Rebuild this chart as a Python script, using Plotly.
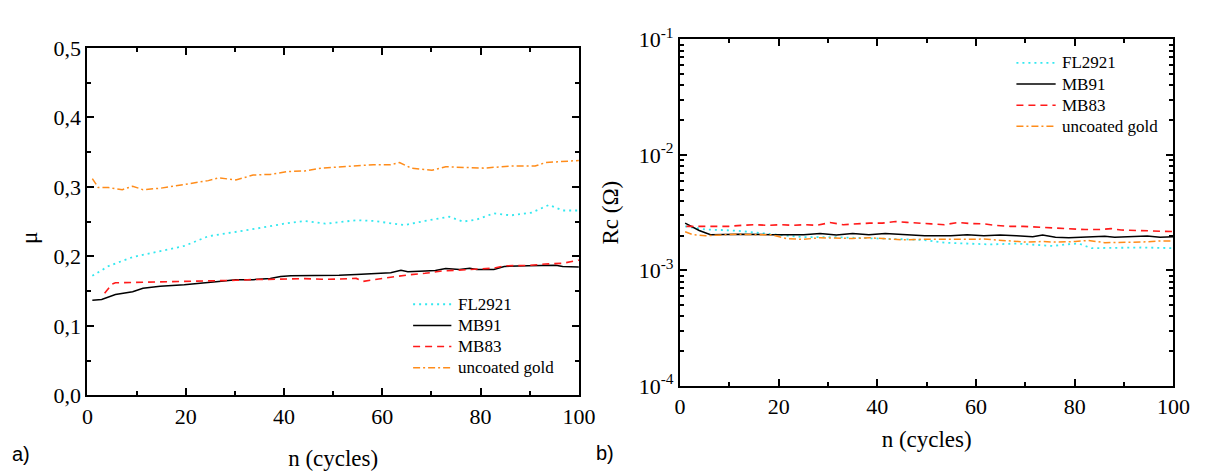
import plotly.graph_objects as go

# ---- friction coefficient mu vs. cycles (panel a) ----
fl2921_n = [1, 4.3, 9.2, 14.8, 19.7, 24.6, 30.2, 34.4, 40.0, 44.2, 48.4, 51.2, 54.7,
            58.2, 64.5, 68.7, 73.6, 76.4, 79.2, 82.7, 86.2, 90.4, 93.9, 96.7, 100]
fl2921_mu = [0.172, 0.186, 0.199, 0.208, 0.215, 0.229, 0.235, 0.240, 0.247, 0.251, 0.247,
             0.249, 0.252, 0.251, 0.245, 0.251, 0.257, 0.250, 0.253, 0.262, 0.259, 0.263,
             0.274, 0.266, 0.266]

mb91_n = [1, 2.9, 5.7, 9.2, 11.3, 14.8, 19.7, 23.2, 26.7, 30.2, 33.7, 37.2, 39.3, 41.4,
          44.2, 47.7, 51.2, 54.7, 58.2, 61.7, 63.8, 65.2, 68.7, 70.8, 72.9, 75.7, 77.8,
          79.2, 82.7, 84.8, 89.7, 93.2, 95.3, 96.7, 100]
mb91_mu = [0.137, 0.138, 0.145, 0.149, 0.154, 0.157, 0.159, 0.162, 0.164, 0.1665, 0.1665,
           0.168, 0.171, 0.172, 0.172, 0.173, 0.173, 0.174, 0.1755, 0.1765, 0.180, 0.178,
           0.179, 0.1796, 0.1824, 0.181, 0.183, 0.181, 0.181, 0.1855, 0.1864, 0.1873,
           0.1873, 0.1855, 0.1846]

mb83_n = [3.5, 5.0, 5.7, 9.2, 12.7, 16.2, 19.7, 23.2, 26.7, 30.2, 33.7, 37.2, 40.7, 44.2,
          47.7, 51.2, 54.7, 56.1, 58.2, 61.7, 65.2, 68.7, 72.2, 75.7, 79.2, 82.7, 84.8,
          89.7, 93.2, 96.7, 100]
mb83_mu = [0.147, 0.160, 0.162, 0.1625, 0.1625, 0.1636, 0.1636, 0.164, 0.165, 0.1656,
           0.1666, 0.1666, 0.1674, 0.168, 0.167, 0.1674, 0.1683, 0.164, 0.1665, 0.170,
           0.1733, 0.1756, 0.179, 0.180, 0.181, 0.183, 0.1864, 0.187, 0.189, 0.190, 0.1946]

gold_n = [1, 2.2, 4.3, 7.1, 9.2, 11.3, 14.8, 19.7, 24.6, 26.7, 30.2, 33.7, 37.2, 40.7,
          44.2, 47.7, 51.2, 54.7, 58.2, 61.7, 63.5, 65.9, 70.1, 72.9, 75.7, 80.6, 86.2,
          91.1, 93.2, 96.7, 100]
gold_mu = [0.312, 0.299, 0.299, 0.296, 0.301, 0.296, 0.298, 0.303, 0.309, 0.313, 0.310,
           0.317, 0.318, 0.322, 0.323, 0.327, 0.329, 0.331, 0.332, 0.332, 0.335, 0.327,
           0.324, 0.329, 0.328, 0.327, 0.330, 0.330, 0.335, 0.337, 0.338]

# ---- contact resistance Rc (Ohm) vs. cycles (panel b) ----
rc_fl2921_n = [1.05, 2.6, 5.2, 8.5, 11.9, 15.2, 18.5, 25.1, 31.7, 38.4, 45.0, 49.0, 53.6,
               58.2, 62.9, 68.2, 71.5, 75.5, 78.1, 80.8, 83.4, 88.1, 93.4, 100]
rc_fl2921 = [2.41e-3, 2.34e-3, 2.26e-3, 2.24e-3, 2.20e-3, 2.13e-3, 2.06e-3, 1.94e-3,
             1.94e-3, 1.90e-3, 1.88e-3, 1.84e-3, 1.74e-3, 1.71e-3, 1.68e-3, 1.71e-3,
             1.68e-3, 1.63e-3, 1.68e-3, 1.71e-3, 1.56e-3, 1.58e-3, 1.58e-3, 1.56e-3]

rc_mb91_n = [1.05, 3.9, 6.2, 11.9, 18.5, 25.1, 28.4, 31.7, 35.0, 38.3, 41.6, 45.0, 49.6,
             54.9, 58.2, 61.6, 64.9, 68.2, 71.5, 73.5, 76.1, 78.8, 81.4, 86.1, 88.1, 94.7,
             97.3, 100]
rc_mb91 = [2.57e-3, 2.22e-3, 2.04e-3, 2.06e-3, 2.04e-3, 2.04e-3, 2.09e-3, 2.03e-3, 2.09e-3,
           2.04e-3, 2.09e-3, 2.06e-3, 2.00e-3, 2.00e-3, 2.04e-3, 2.00e-3, 2.03e-3, 2.00e-3,
           1.96e-3, 2.03e-3, 1.94e-3, 1.92e-3, 1.94e-3, 1.98e-3, 1.94e-3, 1.99e-3, 1.94e-3,
           1.96e-3]

rc_mb83_n = [1.3, 4.6, 7.2, 9.9, 12.5, 15.2, 17.8, 20.5, 23.1, 25.4, 27.8, 30.4, 33.1,
             35.7, 38.4, 41.0, 43.7, 46.0, 49.0, 50.9, 53.6, 56.3, 58.9, 61.6, 64.2, 66.9,
             69.5, 72.2, 76.8, 79.5, 82.1, 84.8, 87.4, 89.4, 92.7, 95.4, 100]
rc_mb83 = [2.41e-3, 2.41e-3, 2.41e-3, 2.41e-3, 2.46e-3, 2.49e-3, 2.46e-3, 2.49e-3, 2.46e-3,
           2.49e-3, 2.46e-3, 2.60e-3, 2.49e-3, 2.53e-3, 2.57e-3, 2.57e-3, 2.65e-3, 2.61e-3,
           2.58e-3, 2.53e-3, 2.49e-3, 2.60e-3, 2.55e-3, 2.53e-3, 2.45e-3, 2.41e-3, 2.41e-3,
           2.38e-3, 2.30e-3, 2.29e-3, 2.26e-3, 2.26e-3, 2.30e-3, 2.24e-3, 2.22e-3, 2.20e-3,
           2.17e-3]

rc_gold_n = [1.05, 2.6, 5.2, 8.5, 11.9, 15.2, 18.5, 21.8, 25.1, 28.4, 31.7, 35.0, 38.4,
             41.6, 45.0, 49.0, 51.6, 54.9, 58.2, 61.6, 64.2, 66.9, 70.2, 73.5, 76.1, 80.1,
             82.8, 86.1, 89.4, 93.4, 97.3, 100]
rc_gold = [2.16e-3, 2.04e-3, 2.00e-3, 2.04e-3, 2.06e-3, 2.04e-3, 2.04e-3, 1.88e-3, 1.86e-3,
           1.92e-3, 1.90e-3, 1.89e-3, 1.92e-3, 1.88e-3, 1.84e-3, 1.86e-3, 1.86e-3, 1.84e-3,
           1.86e-3, 1.87e-3, 1.84e-3, 1.82e-3, 1.76e-3, 1.78e-3, 1.76e-3, 1.78e-3, 1.82e-3,
           1.74e-3, 1.74e-3, 1.76e-3, 1.80e-3, 1.80e-3]

series_names = ["FL2921", "MB91", "MB83", "uncoated gold"]
series_colors = ["#33e8f0", "#000000", "#ff1a1a", "#ff8c1a"]
series_dash = ["2px,4px", "solid", "7px,5px", "7px,3px,2px,3px"]
series_width = [1.8, 1.5, 1.6, 1.5]

mu_data = [(fl2921_n, fl2921_mu), (mb91_n, mb91_mu), (mb83_n, mb83_mu), (gold_n, gold_mu)]
rc_data = [(rc_fl2921_n, rc_fl2921), (rc_mb91_n, rc_mb91), (rc_mb83_n, rc_mb83),
           (rc_gold_n, rc_gold)]

W, H = 1210, 475
SERIF = "Liberation Serif"
SANS = "Liberation Sans"

fig = go.Figure()

for name, color, dash, lw, (xs, ys) in zip(series_names, series_colors, series_dash,
                                            series_width, mu_data):
    fig.add_trace(go.Scatter(x=xs, y=ys, mode="lines", name=name, xaxis="x", yaxis="y",
                             showlegend=False,
                             line=dict(color=color, dash=dash, width=lw)))

for name, color, dash, lw, (xs, ys) in zip(series_names, series_colors, series_dash,
                                            series_width, rc_data):
    fig.add_trace(go.Scatter(x=xs, y=ys, mode="lines", name=name, xaxis="x2", yaxis="y2",
                             showlegend=False,
                             line=dict(color=color, dash=dash, width=lw)))


def px_x(p):
    return p / W


def px_y(p):
    return 1 - p / H


# Legend blocks drawn as line samples plus labels (pixel anchors of each block)
legend_blocks = [
    dict(line_x0=415, line_x1=454, text_x=459, row0=307, row_step=22.5),
    dict(line_x0=1030, line_x1=1070, text_x=1074, row0=50, row_step=22.5),
]
shapes = []
annotations = []
for blk in legend_blocks:
    for i, (name, color, dash, lw) in enumerate(zip(series_names, series_colors,
                                                    series_dash, series_width)):
        yy = px_y(blk["row0"] + i * blk["row_step"])
        shapes.append(dict(type="line", xref="paper", yref="paper",
                           x0=px_x(blk["line_x0"]), x1=px_x(blk["line_x1"]), y0=yy, y1=yy,
                           line=dict(color=color, dash=dash, width=lw)))
        annotations.append(dict(text=name, x=px_x(blk["text_x"]), y=yy, xref="paper",
                                yref="paper", showarrow=False, xanchor="left",
                                yanchor="middle",
                                font=dict(family=SERIF, size=17, color="black")))

annotations += [
    dict(text="μ", x=px_x(24), y=px_y(237), xref="paper", yref="paper",
         showarrow=False, textangle=-90, xanchor="center", yanchor="middle",
         font=dict(family=SERIF, size=23, color="black")),
    dict(text="a)", x=px_x(4), y=px_y(466), xref="paper", yref="paper",
         showarrow=False, xanchor="left", yanchor="middle",
         font=dict(family=SANS, size=20, color="black")),
    dict(text="b)", x=px_x(599), y=px_y(465), xref="paper", yref="paper",
         showarrow=False, xanchor="left", yanchor="middle",
         font=dict(family=SANS, size=20, color="black")),
]

axis_common = dict(
    showline=True, linecolor="black", linewidth=2, mirror="ticks",
    ticks="inside", ticklen=7, tickwidth=1.5, tickcolor="black",
    showgrid=False, zeroline=False,
    tickfont=dict(family=SERIF, size=22, color="black"),
)

log_minor = [m * 10 ** e for e in (-4, -3, -2) for m in range(2, 10)]

fig.update_layout(
    width=W, height=H,
    margin=dict(l=0, r=0, t=0, b=0),
    paper_bgcolor="white", plot_bgcolor="white",
    separators=",.",
    showlegend=False,
    font=dict(family=SERIF, color="black"),
    xaxis=dict(axis_common, domain=[px_x(83), px_x(584)], anchor="y",
               range=[0, 100], dtick=20, tick0=0,
               minor=dict(dtick=10, ticks="inside", ticklen=4, tickwidth=1.5,
                          tickcolor="black"),
               title=dict(text="n (cycles)", font=dict(family=SERIF, size=23, color="black"),
                          standoff=22)),
    yaxis=dict(axis_common, domain=[px_y(404), px_y(34)], anchor="x",
               range=[0, 0.5], dtick=0.1, tick0=0, tickformat=".1f",
               minor=dict(dtick=0.05, ticks="inside", ticklen=4, tickwidth=1.5,
                          tickcolor="black")),
    xaxis2=dict(axis_common, domain=[px_x(687), px_x(1190)], anchor="y2",
                range=[0, 100], dtick=20, tick0=0,
                minor=dict(dtick=10, ticks="inside", ticklen=4, tickwidth=1.5,
                           tickcolor="black"),
                title=dict(text="n (cycles)", font=dict(family=SERIF, size=23, color="black"),
                           standoff=13)),
    yaxis2=dict(axis_common, domain=[px_y(394), px_y(25)], anchor="x2",
                type="log", range=[-4, -1],
                tickvals=[1e-4, 1e-3, 1e-2, 1e-1],
                ticktext=["10<sup>-4</sup>", "10<sup>-3</sup>", "10<sup>-2</sup>",
                          "10<sup>-1</sup>"],
                minor=dict(tickvals=log_minor, ticks="inside", ticklen=4, tickwidth=1.5,
                           tickcolor="black"),
                title=dict(text="Rc (Ω)", font=dict(family=SERIF, size=23, color="black"),
                           standoff=14)),
    shapes=shapes,
    annotations=annotations,
)

fig.write_html("out.html")
